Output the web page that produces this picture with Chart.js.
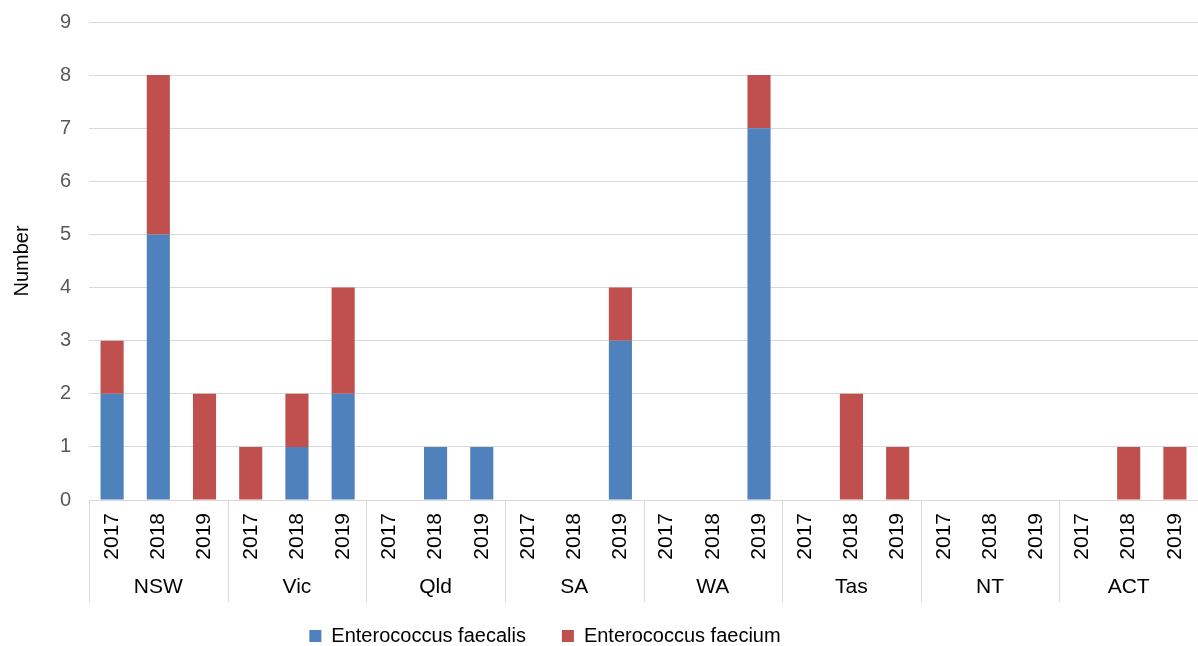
<!DOCTYPE html>
<html>
<head>
<meta charset="utf-8">
<title>Enterococcus isolates by state and year</title>
<style>
  html, body { margin: 0; padding: 0; background: #ffffff; }
  #wrap { width: 1198px; height: 646px; }
</style>
<script src="https://cdn.jsdelivr.net/npm/chart.js@4/dist/chart.umd.min.js"></script>
</head>
<body>
<div id="wrap"><canvas id="chart" width="1198" height="646"></canvas></div>
<script>
// Jurisdictions (outer category level) and years (inner category level)
const states = ['NSW', 'Vic', 'Qld', 'SA', 'WA', 'Tas', 'NT', 'ACT'];
const years = ['2017', '2018', '2019'];

// Counts per jurisdiction, in year order 2017, 2018, 2019
const faecalis = [
  2, 5, 0,   // NSW
  0, 1, 2,   // Vic
  0, 1, 1,   // Qld
  0, 0, 3,   // SA
  0, 0, 7,   // WA
  0, 0, 0,   // Tas
  0, 0, 0,   // NT
  0, 0, 0    // ACT
];
const faecium = [
  1, 3, 2,   // NSW
  1, 1, 2,   // Vic
  0, 0, 0,   // Qld
  0, 0, 1,   // SA
  0, 0, 1,   // WA
  0, 2, 1,   // Tas
  0, 0, 0,   // NT
  0, 1, 1    // ACT
];

const seriesNames = ['Enterococcus faecalis', 'Enterococcus faecium'];
const yAxisTitle = 'Number';
const yMin = 0, yMax = 9, yStep = 1;

const FONT = '"Liberation Sans", Arial, Helvetica, sans-serif';
const GRID = '#d9d9d9';

// Inner labels: one year label per bar
const labels = [];
states.forEach(() => years.forEach(y => labels.push(y)));

// Draws the outer (jurisdiction) level of the category axis with divider lines
const groupAxis = {
  id: 'groupAxis',
  afterDraw(chart) {
    const x = chart.scales.x;
    const area = chart.chartArea;
    const ctx = chart.ctx;
    const n = years.length;
    const step = x.getPixelForValue(1) - x.getPixelForValue(0);
    ctx.save();
    ctx.strokeStyle = GRID;
    ctx.lineWidth = 1;
    ctx.fillStyle = '#000000';
    ctx.font = '21px ' + FONT;
    ctx.textAlign = 'center';
    ctx.textBaseline = 'middle';
    states.forEach((s, g) => {
      const left = x.getPixelForValue(g * n) - step / 2;
      const right = left + step * n;
      const lx = Math.round(left) + 0.5;
      ctx.beginPath();
      ctx.moveTo(lx, area.bottom);
      ctx.lineTo(lx, area.bottom + 102);
      ctx.stroke();
      ctx.fillText(s, (left + right) / 2, area.bottom + 87);
    });
    ctx.restore();
  }
};

// Places the legend row slightly left of the canvas centre
const legendOffset = {
  id: 'legendOffset',
  afterLayout(chart) {
    const lg = chart.legend;
    if (lg) {
      lg.left -= 54;
      lg.right -= 54;
    }
  }
};

new Chart(document.getElementById('chart'), {
  type: 'bar',
  data: {
    labels: labels,
    datasets: [
      {
        label: seriesNames[0],
        data: faecalis,
        backgroundColor: '#4f81bd',
        borderWidth: 0,
        barPercentage: 0.5,
        categoryPercentage: 1.0
      },
      {
        label: seriesNames[1],
        data: faecium,
        backgroundColor: '#c0504d',
        borderWidth: 0,
        barPercentage: 0.5,
        categoryPercentage: 1.0
      }
    ]
  },
  options: {
    responsive: false,
    animation: false,
    devicePixelRatio: 1,
    layout: { padding: { top: 22, left: 0, right: 0, bottom: -10 } },
    plugins: {
      legend: {
        position: 'bottom',
        labels: {
          font: { family: FONT, size: 20 },
          color: '#000000',
          boxWidth: 12,
          boxHeight: 12,
          padding: 36
        }
      },
      tooltip: { enabled: false }
    },
    scales: {
      x: {
        stacked: true,
        offset: true,
        grid: { display: false, drawTicks: false },
        border: { display: false },
        ticks: {
          autoSkip: false,
          minRotation: 90,
          maxRotation: 90,
          padding: 13,
          color: '#000000',
          font: { family: FONT, size: 21 }
        },
        afterFit(scale) {
          scale.height = 90;
          scale.paddingLeft = 0;
          scale.paddingRight = 0;
        }
      },
      y: {
        stacked: true,
        min: yMin,
        max: yMax,
        grid: { color: GRID, lineWidth: 1, drawTicks: false },
        border: { display: false },
        ticks: {
          stepSize: yStep,
          padding: 18,
          color: '#595959',
          font: { family: FONT, size: 20 }
        },
        title: {
          display: true,
          text: yAxisTitle,
          color: '#000000',
          font: { family: FONT, size: 20 },
          padding: { top: 10, bottom: 0 }
        },
        afterFit(scale) {
          scale.width = 89;
          scale.paddingTop = 0;
          scale.paddingBottom = 0;
        }
      }
    }
  },
  plugins: [groupAxis, legendOffset]
});
</script>
</body>
</html>
